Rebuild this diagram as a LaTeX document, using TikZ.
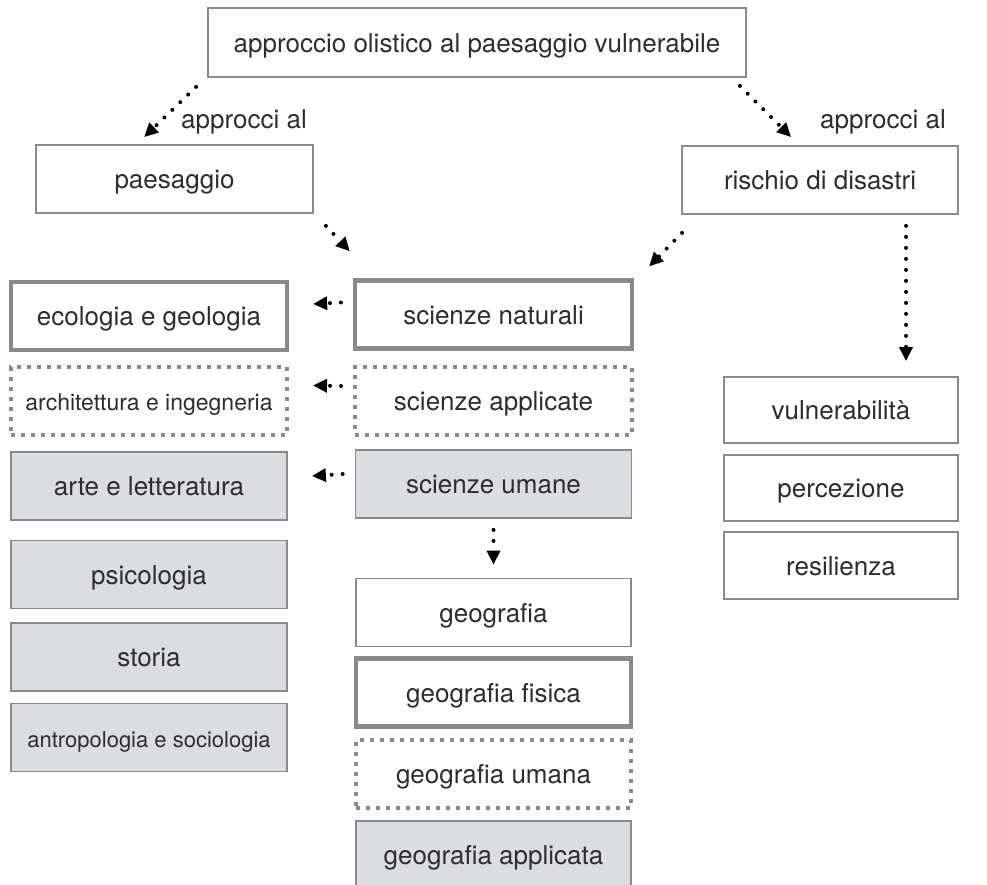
\documentclass[tikz,border=0pt]{standalone}
\usepackage{fontspec}
\setmainfont{TeX Gyre Heros}
\usetikzlibrary{arrows.meta,calc}
\definecolor{edgegrey}{RGB}{138,138,140}
\definecolor{fillgrey}{RGB}{220,221,224}
\definecolor{inkgrey}{RGB}{45,45,45}
\tikzset{
  base/.style={rectangle, inner sep=0pt, minimum height=68pt, text=inkgrey,
    font=\fontsize{26}{30}\selectfont, text height=23pt, text depth=4pt},
  thinbox/.style={base, draw=edgegrey, line width=1.8pt, fill=white},
  thickbox/.style={base, draw=edgegrey, line width=4.2pt, fill=white},
  dotbox/.style={base, draw=edgegrey, line width=4pt, fill=white,
    dash pattern=on 4pt off 6pt},
  greybox/.style={base, draw=edgegrey, line width=1.8pt, fill=fillgrey},
  smalltext/.style={font=\fontsize{23}{27}\selectfont},
  tinytext/.style={font=\fontsize{22}{26}\selectfont},
  lbl/.style={text=inkgrey, font=\fontsize{26}{30}\selectfont, inner sep=0pt},
  flow/.style={black, line width=4pt, line cap=round, dash pattern=on 0pt off 11pt,
    -{Triangle[length=14pt,width=13pt]}},
}
\begin{document}
\begin{tikzpicture}[x=1pt,y=-1pt]
\useasboundingbox (0,0) rectangle (987,884);
\clip (0,0) rectangle (987,884);

% heading and the two families of approaches
\node[thinbox, minimum width=538pt, minimum height=69pt] (top) at (477,42.5)
  {approccio olistico al paesaggio vulnerabile};
\node[thinbox, minimum width=277pt] (pae) at (174.5,179) {paesaggio};
\node[thinbox, minimum width=276pt] (ris) at (820,180) {rischio di disastri};
\node[lbl] (lp) at (244,122) {approcci al};
\node[lbl] (lr) at (883,122) {approcci al};

% sciences column
\node[thickbox, minimum width=277pt] (sn) at (493.5,314.5) {scienze naturali};
\node[dotbox, minimum width=277pt] (sa) at (493.5,401) {scienze applicate};
\node[greybox, minimum width=276pt] (su) at (493.5,484) {scienze umane};

% disciplines column
\node[thickbox, minimum width=276pt] (eg) at (149,316) {ecologia e geologia};
\node[dotbox, smalltext, minimum width=276pt] (ai) at (149,400.5) {architettura e ingegneria};
\node[greybox, minimum width=276pt] (al) at (149,486) {arte e letteratura};
\node[greybox, minimum width=276pt] (ps) at (149,574.5) {psicologia};
\node[greybox, minimum width=276pt] (st) at (149,657) {storia};
\node[greybox, tinytext, minimum width=276pt] (as) at (149,737.5) {antropologia e sociologia};

% geography column
\node[thinbox, minimum width=275pt] (geo) at (493.5,612.5) {geografia};
\node[thickbox, minimum width=275pt] (gf) at (493.5,692.5) {geografia fisica};
\node[dotbox, minimum width=275pt] (gu) at (493.5,773.5) {geografia umana};
\node[greybox, minimum width=275pt] (ga) at (493.5,855) {geografia applicata};

% risk components
\node[thinbox, minimum width=234pt, minimum height=66pt] (vul) at (841,410) {vulnerabilità};
\node[thinbox, minimum width=234pt, minimum height=66pt] (per) at (841,488) {percezione};
\node[thinbox, minimum width=234pt, minimum height=67pt] (res) at (841,565.5) {resilienza};

% connectors
\draw[flow] ($(top.south west)+(-11,9)$) -- ($(pae.north west)+(109,-7)$);
\draw[flow] ($(top.south east)+(-7,8)$) -- ($(ris.north west)+(110,-8)$);
\draw[flow] ($(pae.south east)+(12,12)$) -- ($(sn.north west)+(-3,-27)$);
\draw[flow] ($(ris.south west)+(1,18)$) -- ($(sn.north east)+(15,-12)$);
\draw[flow] ($(ris.south)+(86,11)$) -- ($(vul.north)+(65,-15)$);
\draw[flow] ($(su.south)+(0,11)$) -- ($(geo.north)+(0,-13)$);
\draw[flow] ($(sn.west)+(-12,-12)$) -- ($(eg.east)+(24,-12)$);
\draw[flow] ($(sa.west)+(-12,-15)$) -- ($(ai.east)+(24,-15)$);
\draw[flow] ($(su.west)+(-12,-10)$) -- ($(al.east)+(24,-10)$);
\end{tikzpicture}
\end{document}
